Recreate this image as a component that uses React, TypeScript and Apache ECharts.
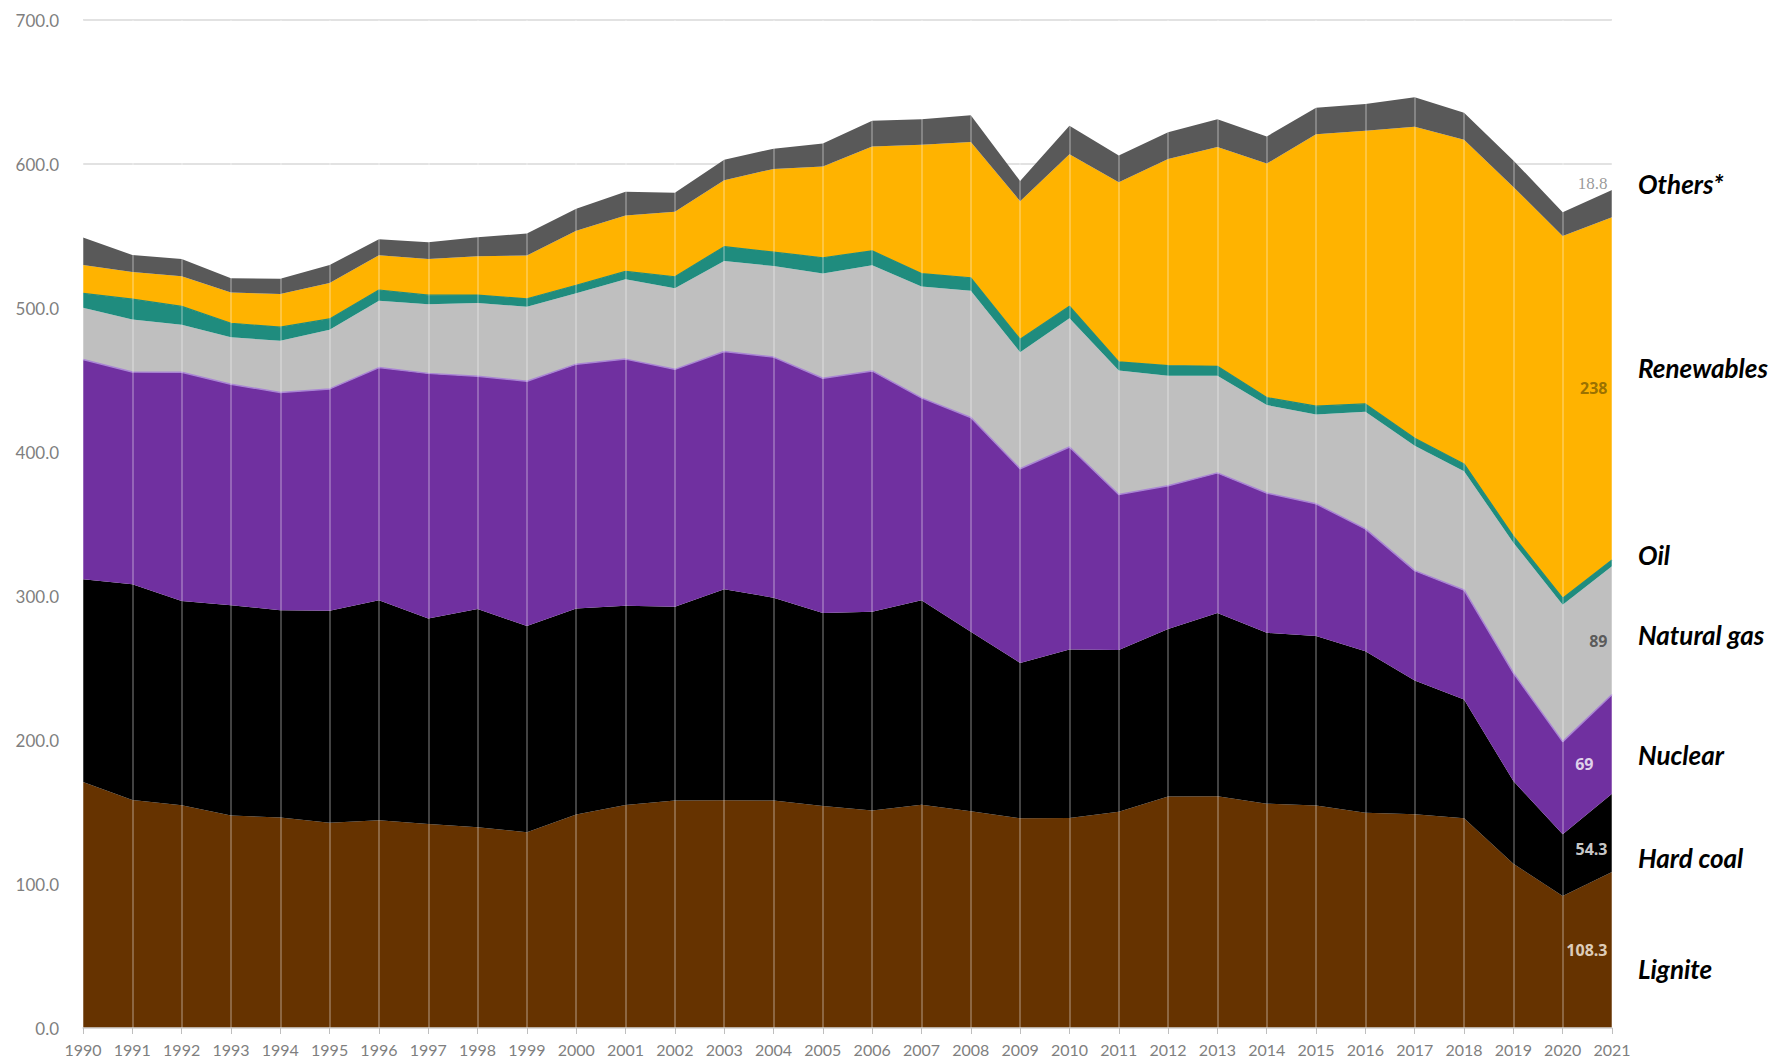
import React, { useEffect, useRef } from "react";
import * as echarts from "echarts";

const years = [
  "1990", "1991", "1992", "1993", "1994", "1995", "1996", "1997", "1998", "1999",
  "2000", "2001", "2002", "2003", "2004", "2005", "2006", "2007", "2008", "2009",
  "2010", "2011", "2012", "2013", "2014", "2015", "2016", "2017", "2018", "2019",
  "2020", "2021",
];

const lignite = [170.9, 158.3, 154.7, 147.5, 146.1, 142.6, 144.3, 141.7, 139.4, 136.0, 148.3, 154.8, 158.0, 158.2, 158.0, 154.1, 151.1, 155.1, 150.6, 145.6, 145.9, 150.1, 160.7, 160.9, 155.8, 154.5, 149.5, 148.4, 145.6, 114.0, 91.7, 108.3];
const hardCoal = [140.8, 149.8, 141.9, 146.1, 144.0, 147.1, 152.7, 142.6, 151.6, 143.1, 143.1, 138.4, 134.6, 146.5, 140.8, 134.1, 137.9, 142.0, 124.6, 107.9, 117.0, 112.4, 116.4, 127.3, 118.6, 117.7, 112.2, 92.9, 82.6, 57.5, 42.8, 54.3];
const nuclear = [152.5, 147.4, 158.8, 153.5, 151.2, 154.1, 161.6, 170.3, 161.6, 170.0, 169.6, 171.3, 164.8, 165.1, 167.1, 163.0, 167.3, 140.5, 148.8, 134.9, 140.6, 108.0, 99.5, 97.3, 97.1, 91.8, 84.9, 76.3, 76.0, 75.1, 64.4, 69.0];
const naturalGas = [35.9, 36.6, 32.9, 32.6, 35.9, 41.1, 46.4, 48.0, 50.8, 51.8, 49.2, 55.5, 56.3, 62.9, 63.2, 72.7, 73.4, 77.3, 88.0, 80.9, 89.3, 86.1, 76.4, 67.5, 61.1, 62.0, 81.3, 86.7, 82.5, 90.4, 95.1, 89.0];
const oil = [10.0, 14.0, 12.8, 9.7, 9.5, 7.5, 7.5, 6.3, 5.6, 5.5, 5.6, 5.4, 8.0, 9.9, 9.7, 11.0, 10.0, 9.0, 9.0, 9.0, 8.4, 6.0, 7.0, 6.5, 5.2, 5.8, 5.5, 5.3, 5.0, 4.6, 4.5, 4.5];
const renewables = [19.7, 18.9, 20.9, 21.3, 23.0, 24.9, 24.1, 25.2, 26.9, 30.0, 37.9, 38.9, 45.1, 46.1, 57.8, 63.4, 72.5, 89.4, 94.3, 95.9, 105.6, 124.8, 143.5, 152.3, 162.5, 188.8, 189.7, 216.3, 225.1, 242.4, 251.5, 238.0];
const others = [19.2, 11.8, 12.0, 10.0, 10.6, 12.5, 11.2, 11.6, 13.3, 15.3, 15.3, 16.5, 13.2, 14.3, 14.0, 16.0, 17.9, 17.8, 18.5, 14.0, 19.8, 18.5, 18.6, 19.3, 18.8, 18.5, 18.5, 20.4, 18.8, 18.5, 16.5, 18.8];

const seriesNames = ["Lignite", "Hard coal", "Nuclear", "Natural gas", "Oil", "Renewables", "Others*"];
const seriesData = [lignite, hardCoal, nuclear, naturalGas, oil, renewables, others];
const seriesColors = ["#663300", "#000000", "#7030A0", "#BFBFBF", "#1F8C7E", "#FFB300", "#595959"];

// right-hand labels, top to bottom
const sideLabels = ["Others*", "Renewables", "Oil", "Natural gas", "Nuclear", "Hard coal", "Lignite"];
const sideLabelY = [184, 368, 555, 635, 755, 858, 969];

const yTicks = [0, 100, 200, 300, 400, 500, 600, 700];

export default function App() {
  const ref = useRef<HTMLDivElement>(null);

  useEffect(() => {
    if (!ref.current) return;
    const chart = echarts.init(ref.current, null, { renderer: "svg" });
    const last = years.length - 1;

    const bottoms: number[] = [];
    let acc = 0;
    for (const arr of seriesData) {
      bottoms.push(acc);
      acc += arr[last];
    }
    const total = acc;
    const mid = (i: number) => bottoms[i] + seriesData[i][last] / 2;

    const labelStyles = [
      { color: "#FFF8EC", offset: [0, 0] },
      { color: "#FFFFFF", offset: [0, 16] },
      { color: "#FFFFFF", offset: [-14, 20] },
      { color: "#404040", offset: [0, 11] },
      null,
      { color: "#7F6000", offset: [0, 0] },
    ];

    const labelData: any[] = [];
    labelStyles.forEach((st, i) => {
      if (!st) return;
      labelData.push({
        value: [years[last], mid(i)],
        label: {
          show: true,
          position: "left",
          distance: 4,
          formatter: String(seriesData[i][last]),
          color: st.color,
          fontWeight: 700,
          fontSize: 16,
          fontFamily: "Open Sans",
          offset: st.offset,
        },
      });
    });
    labelData.push({
      value: [years[last], total],
      label: {
        show: true,
        position: "left",
        distance: 4,
        formatter: String(others[last]),
        color: "#7F7F7F",
        fontWeight: 400,
        fontSize: 17,
        fontFamily: "Liberation Serif",
        offset: [0, -7],
      },
    });

    const areaSeries = seriesNames.map((name, i) => ({
      name,
      type: "line",
      stack: "total",
      data: seriesData[i],
      symbol: "none",
      showSymbol: false,
      smooth: false,
      z: 2,
      lineStyle:
        i === 2
          ? { width: 1.5, color: "#A985D4" }
          : i === 4
          ? { width: 1.2, color: seriesColors[i] }
          : { width: 0, opacity: 0 },
      areaStyle: { color: seriesColors[i], opacity: 1 },
      itemStyle: { color: seriesColors[i] },
      emphasis: { disabled: true },
    }));

    const option: any = {
      animation: false,
      backgroundColor: "#ffffff",
      textStyle: { fontFamily: "Lato" },
      grid: { left: 83, right: 163, top: 20, bottom: 35, containLabel: false },
      xAxis: {
        type: "category",
        data: years,
        boundaryGap: false,
        z: 5,
        axisLine: { show: true, lineStyle: { color: "#D9D9D9", width: 1.5 } },
        axisTick: { show: true, length: 6, interval: 0, lineStyle: { color: "#BFBFBF" } },
        axisLabel: { interval: 0, color: "#7F7F7F", fontSize: 16, fontFamily: "Lato", margin: 13 },
        splitLine: { show: true, interval: 0, lineStyle: { color: "rgba(255,255,255,0.35)", width: 1.5 } },
      },
      yAxis: {
        type: "value",
        min: yTicks[0],
        max: yTicks[yTicks.length - 1],
        interval: 100,
        axisLine: { show: false },
        axisTick: { show: false },
        axisLabel: {
          color: "#7F7F7F",
          fontSize: 17,
          fontFamily: "Lato",
          margin: 24,
          formatter: (v: number) => v.toFixed(1),
        },
        splitLine: { show: true, lineStyle: { color: "#D9D9D9", width: 1.5 } },
      },
      series: [
        ...areaSeries,
        {
          name: "labels",
          type: "scatter",
          data: labelData,
          symbolSize: 1,
          itemStyle: { color: "rgba(0,0,0,0)" },
          label: { show: true, fontWeight: 700, fontFamily: "Open Sans", fontSize: 16 },
          z: 10,
          silent: true,
        },
      ],
      graphic: sideLabels.map((t, i) => ({
        type: "text",
        x: 1638,
        y: sideLabelY[i],
        silent: true,
        style: {
          text: t,
          fill: "#000000",
          fontFamily: "Lato",
          fontSize: 26,
          fontWeight: "bold",
          fontStyle: "italic",
          textVerticalAlign: "middle",
          verticalAlign: "middle",
        },
      })),
    };

    chart.setOption(option);
    return () => chart.dispose();
  }, []);

  return (
    <div
      ref={ref}
      style={{ position: "fixed", left: 0, top: 0, width: 1775, height: 1063, background: "#fff" }}
    />
  );
}
